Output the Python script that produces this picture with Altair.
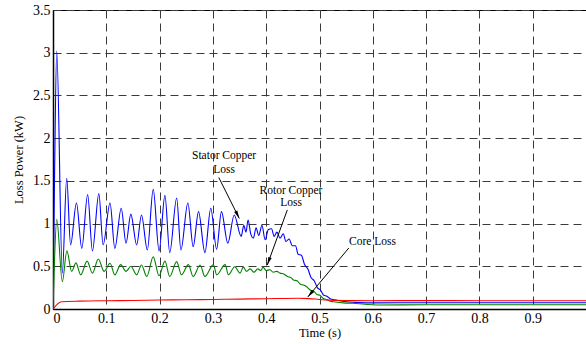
import altair as alt
import pandas as pd
import math

# ---- data ----
blue_t = [0, 0.003, 0.007, 0.0175, 0.0257, 0.033, 0.044, 0.054, 0.065, 0.074, 0.086, 0.094,
          0.107, 0.116, 0.128, 0.137, 0.146, 0.157, 0.166, 0.177, 0.188, 0.199, 0.210, 0.219,
          0.232, 0.240, 0.253, 0.263, 0.273, 0.285, 0.296, 0.307, 0.316, 0.328, 0.340, 0.353,
          0.358, 0.362, 0.366, 0.371, 0.376, 0.381, 0.386, 0.392, 0.398, 0.404, 0.410, 0.415,
          0.420, 0.426, 0.432, 0.437, 0.443, 0.449, 0.455, 0.460, 0.466, 0.472, 0.478, 0.484,
          0.490, 0.496, 0.502, 0.508, 0.514, 0.520, 0.535, 0.551, 0.575, 0.60, 0.7, 0.8, 0.9, 1.0]
blue_v = [0, 1.6, 3.02, 0.42, 1.53, 0.75, 1.24, 0.71, 1.34, 0.68, 1.35, 0.75,
          1.24, 0.71, 1.18, 0.77, 1.11, 0.75, 1.10, 0.69, 1.40, 0.68, 1.33, 0.66,
          1.30, 0.69, 1.24, 0.73, 1.14, 0.66, 1.18, 0.70, 1.14, 0.77, 1.10, 0.85,
          0.98, 0.90, 1.04, 0.88, 0.83, 0.95, 0.86, 0.98, 0.81, 0.93, 0.94, 0.85,
          0.90, 0.83, 0.88, 0.79, 0.82, 0.74, 0.74, 0.64, 0.63, 0.52, 0.47, 0.37,
          0.33, 0.25, 0.22, 0.16, 0.15, 0.12, 0.10, 0.085, 0.075, 0.072, 0.074, 0.073, 0.074, 0.074]

green_t = [0, 0.003, 0.007, 0.0175, 0.026, 0.035, 0.043, 0.052, 0.064, 0.074, 0.085, 0.096,
           0.107, 0.116, 0.127, 0.137, 0.146, 0.157, 0.166, 0.176, 0.188, 0.199, 0.210, 0.219,
           0.232, 0.241, 0.254, 0.263, 0.276, 0.285, 0.301, 0.307, 0.323, 0.329, 0.341, 0.351,
           0.357, 0.363, 0.370, 0.377, 0.384, 0.390, 0.394, 0.400, 0.407, 0.413, 0.420, 0.426,
           0.433, 0.440, 0.446, 0.451, 0.458, 0.464, 0.470, 0.476, 0.483, 0.489, 0.495, 0.501,
           0.508, 0.514, 0.520, 0.526, 0.545, 0.563, 0.585, 0.607, 0.7, 0.8, 0.9, 1.0]
green_v = [0, 0.6, 1.05, 0.32, 0.68, 0.44, 0.54, 0.40, 0.56, 0.42, 0.585, 0.44,
           0.535, 0.40, 0.52, 0.44, 0.50, 0.40, 0.515, 0.38, 0.61, 0.39, 0.56, 0.38,
           0.555, 0.40, 0.52, 0.38, 0.515, 0.38, 0.52, 0.40, 0.52, 0.40, 0.495, 0.42,
           0.49, 0.44, 0.47, 0.43, 0.47, 0.45, 0.49, 0.45, 0.46, 0.43, 0.44, 0.42,
           0.41, 0.38, 0.37, 0.34, 0.33, 0.29, 0.28, 0.26, 0.22, 0.21, 0.17, 0.16,
           0.12, 0.11, 0.09, 0.085, 0.072, 0.067, 0.055, 0.047, 0.05, 0.049, 0.05, 0.05]

red_t = [0, 0.016, 0.05, 0.1, 0.15, 0.2, 0.25, 0.3, 0.35, 0.4, 0.46, 0.48, 0.5, 0.52, 0.55,
         0.6, 0.7, 0.8, 0.9, 1.0]
red_v = [0, 0.085, 0.092, 0.097, 0.10, 0.105, 0.108, 0.112, 0.116, 0.12, 0.125, 0.122, 0.112,
         0.104, 0.099, 0.097, 0.098, 0.097, 0.097, 0.097]

series_names = ["Stator Copper Loss", "Rotor Copper Loss", "Core Loss"]
series_colors = ["#0000ff", "#008000", "#ff0000"]

x_ticks = [0, 0.1, 0.2, 0.3, 0.4, 0.5, 0.6, 0.7, 0.8, 0.9]
y_ticks = [0, 0.5, 1, 1.5, 2, 2.5, 3, 3.5]

# annotations: text lines and arrow start/end (data units)
ann_text = ["Stator Copper", "Loss", "Rotor Copper", "Loss", "Core Loss"]
ann_tx = [0.321, 0.321, 0.4465, 0.4465, 0.5994]
ann_ty = [1.79, 1.63, 1.385, 1.235, 0.78]
arr_x1 = [0.311, 0.4396, 0.555]
arr_y1 = [1.54, 1.16, 0.714]
arr_x2 = [0.3495, 0.402, 0.478]
arr_y2 = [1.06, 0.515, 0.14]

# ---- build tables ----
rows = []
for name, ts, vs in zip(series_names, [blue_t, green_t, red_t], [blue_v, green_v, red_v]):
    for i, (t, v) in enumerate(zip(ts, vs)):
        rows.append({"t": t, "v": v, "s": name, "i": i})
df = pd.DataFrame(rows)

W, H = 533, 299
xs = W / 1.0
ys = H / 3.5
angles = []
for a, b, c, d in zip(arr_x1, arr_y1, arr_x2, arr_y2):
    dx = (c - a) * xs
    dy = -(d - b) * ys
    ang = math.degrees(math.atan2(dx, -dy)) % 360
    angles.append(ang)
arr = pd.DataFrame({"x1": arr_x1, "y1": arr_y1, "x2": arr_x2, "y2": arr_y2, "ang": angles})
txt = pd.DataFrame({"text": ann_text, "x": ann_tx, "y": ann_ty})

FONT = "Liberation Serif"
xsc = alt.Scale(domain=[0, 1], nice=False, zero=False)
ysc = alt.Scale(domain=[0, 3.5], nice=False)

lines = alt.Chart(df).mark_line(strokeWidth=1.1, clip=True, interpolate="monotone").encode(
    x=alt.X("t:Q", scale=xsc, title="Time (s)",
            axis=alt.Axis(values=x_ticks, format="~g", grid=True, ticks=False)),
    y=alt.Y("v:Q", scale=ysc, title="Loss Power (kW)",
            axis=alt.Axis(values=y_ticks, format="~g", grid=True, ticks=False)),
    color=alt.Color("s:N", scale=alt.Scale(domain=series_names, range=series_colors), legend=None),
    order="i:Q",
    detail="s:N",
)

rules = alt.Chart(arr).mark_rule(color="black", strokeWidth=1).encode(
    x="x1:Q", y="y1:Q", x2="x2:Q", y2="y2:Q")

heads = alt.Chart(arr).mark_point(
    shape="M0,0 L-0.4,1.8 L0.4,1.8 Z", filled=True, color="black", opacity=1, size=79
).encode(x="x2:Q", y="y2:Q", angle=alt.Angle("ang:Q", scale=None))

texts = alt.Chart(txt).mark_text(font=FONT, fontSize=11.5, color="black").encode(
    x="x:Q", y="y:Q", text="text:N")

chart = alt.layer(lines, rules, heads, texts).properties(
    width=W, height=H,
    autosize=alt.AutoSizeParams(type="none"),
    padding={"left": 53, "top": 10, "right": 0, "bottom": 35},
).configure_view(
    stroke="black", strokeWidth=1
).configure_axis(
    labelFont=FONT, titleFont=FONT, labelFontSize=14, titleFontSize=12.5,
    titleFontWeight="normal", labelColor="black", titleColor="black",
    domainColor="black", domainWidth=1.5,
    gridColor="#3a3a3a", gridDash=[8, 5], gridWidth=1, gridOpacity=1,
).configure_axisX(labelPadding=2, titlePadding=1).configure_axisY(
    labelPadding=3, titlePadding=7)

chart.save("out.html", embed_options={"renderer": "svg", "actions": False})
